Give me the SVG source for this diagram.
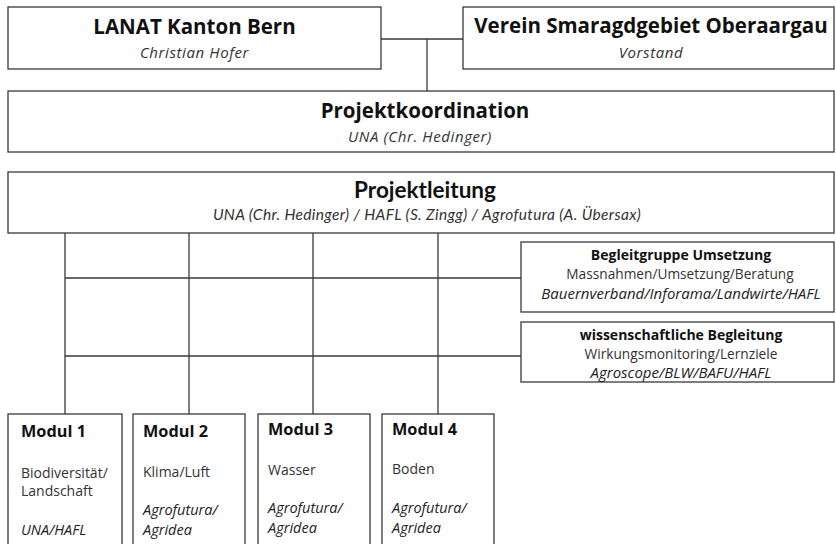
<svg xmlns="http://www.w3.org/2000/svg" width="836" height="544" viewBox="0 0 836 544">
<style>
.box{fill:#fff;stroke:#3a3a3a;stroke-width:1.3}
.ln{stroke:#3a3a3a;stroke-width:1.3;fill:none}
.t1{font-family:"Open Sans","Noto Sans",sans-serif;font-weight:bold;font-size:20.5px;fill:#111;text-anchor:middle}
.s1{font-family:"Open Sans","Noto Sans",sans-serif;font-style:italic;font-size:15px;letter-spacing:0.6px;fill:#333;text-anchor:middle}
.t2{font-family:Lato,"Open Sans",sans-serif;font-weight:bold;font-size:22.5px;fill:#111;text-anchor:middle}
.s2{font-family:Lato,"Open Sans",sans-serif;font-style:italic;font-size:15.5px;letter-spacing:0.35px;fill:#333;text-anchor:middle}
.bh{font-family:"Open Sans","Noto Sans",sans-serif;font-weight:bold;font-size:14px;fill:#111;text-anchor:middle}
.bb{font-family:"Open Sans","Noto Sans",sans-serif;font-size:13.7px;fill:#333;text-anchor:middle}
.bi{font-family:"Open Sans","Noto Sans",sans-serif;font-style:italic;font-size:15px;fill:#222;text-anchor:middle}
.mh{font-family:"Open Sans","Noto Sans",sans-serif;font-weight:bold;font-size:16.3px;fill:#111}
.mb{font-family:"Open Sans","Noto Sans",sans-serif;font-size:14px;fill:#333}
.mi{font-family:"Open Sans","Noto Sans",sans-serif;font-style:italic;font-size:14.5px;fill:#222}
</style>
<g id="connectors">
<path class="ln" d="M381,39 H463 M427,39 V91"/>
<path class="ln" d="M65,233 V414 M189,233 V414 M313,233 V414 M438,233 V414"/>
<path class="ln" d="M65,278 H521 M65,356 H521"/>
</g>
<g id="lanat">
<rect class="box" x="8" y="7" width="373" height="62"/>
<text class="t1" x="194.5" y="34">LANAT Kanton Bern</text>
<text class="s1" x="194.5" y="58">Christian Hofer</text>
</g>
<g id="verein">
<rect class="box" x="463" y="7" width="371" height="62"/>
<text class="t1" x="651" y="33">Verein Smaragdgebiet Oberaargau</text>
<text class="s1" x="651" y="58">Vorstand</text>
</g>
<g id="projektkoordination">
<rect class="box" x="8" y="91" width="826" height="61"/>
<text class="t1" x="425" y="118">Projektkoordination</text>
<text class="s1" x="420" y="142">UNA (Chr. Hedinger)</text>
</g>
<g id="projektleitung">
<rect class="box" x="8" y="172" width="826" height="61"/>
<text class="t2" x="425" y="198">Projektleitung</text>
<text class="s2" x="427" y="220">UNA (Chr. Hedinger) / HAFL (S. Zingg) / Agrofutura (A. Übersax)</text>
</g>
<g id="begleitgruppe">
<rect class="box" x="521" y="242" width="313" height="70"/>
<text class="bh" x="681" y="260">Begleitgruppe Umsetzung</text>
<text class="bb" x="680" y="279">Massnahmen/Umsetzung/Beratung</text>
<text class="bi" x="681" y="299">Bauernverband/Inforama/Landwirte/HAFL</text>
</g>
<g id="wissenschaft">
<rect class="box" x="521" y="322" width="313" height="60"/>
<text class="bh" x="681" y="340">wissenschaftliche Begleitung</text>
<text class="bb" x="681" y="359">Wirkungsmonitoring/Lernziele</text>
<text class="bi" x="681" y="378">Agroscope/BLW/BAFU/HAFL</text>
</g>
<g id="modul1">
<rect class="box" x="8" y="414" width="114" height="140"/>
<text class="mh" x="21" y="437">Modul 1</text>
<text class="mb" x="21" y="478">Biodiversität/</text>
<text class="mb" x="21" y="496">Landschaft</text>
<text class="mi" x="21" y="535">UNA/HAFL</text>
</g>
<g id="modul2">
<rect class="box" x="133" y="414" width="112" height="140"/>
<text class="mh" x="143" y="437">Modul 2</text>
<text class="mb" x="143" y="477">Klima/Luft</text>
<text class="mi" x="143" y="515">Agrofutura/</text>
<text class="mi" x="143" y="535">Agridea</text>
</g>
<g id="modul3">
<rect class="box" x="258" y="414" width="112" height="140"/>
<text class="mh" x="268" y="435">Modul 3</text>
<text class="mb" x="268" y="475">Wasser</text>
<text class="mi" x="268" y="513">Agrofutura/</text>
<text class="mi" x="268" y="533">Agridea</text>
</g>
<g id="modul4">
<rect class="box" x="382" y="414" width="112" height="140"/>
<text class="mh" x="392" y="435">Modul 4</text>
<text class="mb" x="392" y="474">Boden</text>
<text class="mi" x="392" y="513">Agrofutura/</text>
<text class="mi" x="392" y="533">Agridea</text>
</g>
</svg>
